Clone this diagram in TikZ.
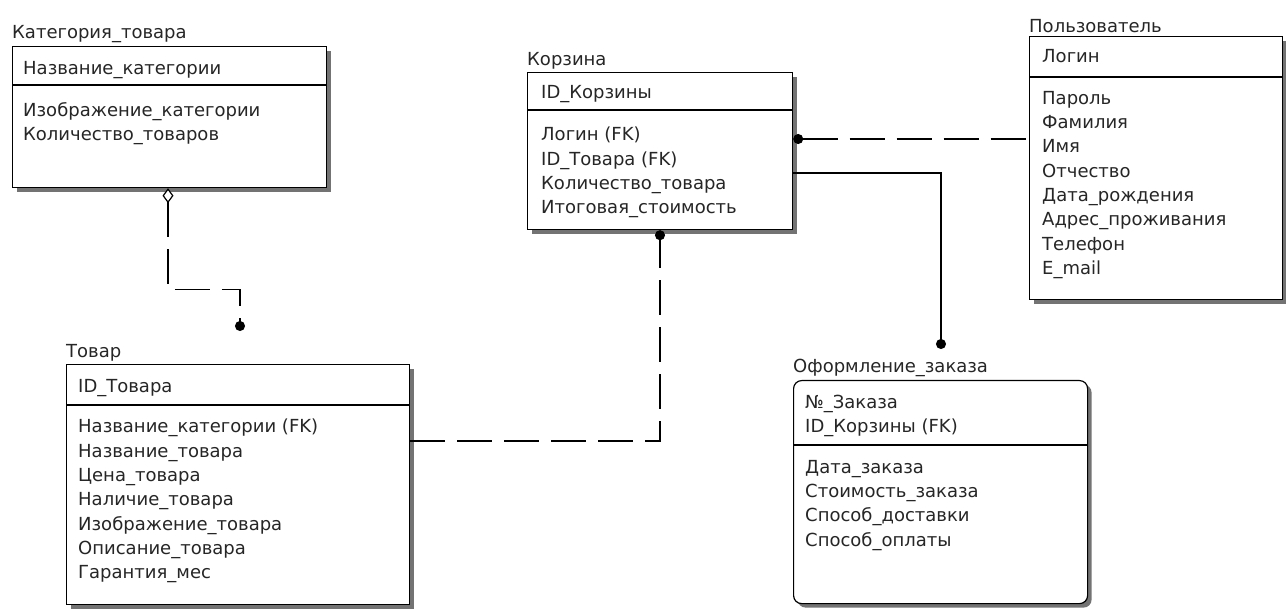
\documentclass[tikz,border=0pt]{standalone}
\usepackage{fontspec}
\setmainfont{DejaVu Sans}
\usetikzlibrary{positioning, shadows, arrows.meta}
\tikzstyle{entity} = [draw, line width=1.2pt, fill=white, anchor=north west, inner sep=0pt, drop shadow={shadow xshift=4pt, shadow yshift=-4pt, fill=black!55, opacity=1}]
\tikzstyle{field} = [anchor=base west, inner sep=0pt, align=left, text=black!85, font=\fontsize{18}{24.3}\selectfont]
\tikzstyle{fields} = [field, anchor=north west]
\tikzstyle{rel} = [line width=1.2pt, dash pattern=on 35pt off 12pt]

\begin{document}
\begin{tikzpicture}[x=1pt, y=-1pt]
  \useasboundingbox (0,0) rectangle (1286,612);

  % Категория_товара
  \node[entity, minimum width=314pt, minimum height=141pt] (cat) at (12,46) {};
  \draw[line width=1.2pt] (cat.west |- 0,85) -- (cat.east |- 0,85);
  \node[field, above right=3pt and 0pt of cat.north west, anchor=south west] (catT) {Категория\_товара};
  \node[field] (catK) at (23,75) {Название\_категории};
  \node[fields] (catA) at (23,102) {Изображение\_категории\\Количество\_товаров};

  % Товар
  \node[entity, minimum width=343pt, minimum height=240pt] (prod) at (66,364) {};
  \draw[line width=1.2pt] (prod.west |- 0,405) -- (prod.east |- 0,405);
  \node[field, above right=3pt and 0pt of prod.north west, anchor=south west] (prodT) {Товар};
  \node[field] (prodK) at (78,393) {ID\_Товара};
  \node[fields] (prodA) at (78,419) {Название\_категории (FK)\\Название\_товара\\Цена\_товара\\Наличие\_товара\\Изображение\_товара\\Описание\_товара\\Гарантия\_мес};

  % Корзина
  \node[entity, minimum width=265pt, minimum height=157pt] (cart) at (527,72) {};
  \draw[line width=1.2pt] (cart.west |- 0,110) -- (cart.east |- 0,110);
  \node[field, above right=3pt and 0pt of cart.north west, anchor=south west] (cartT) {Корзина};
  \node[field] (cartK) at (541,99) {ID\_Корзины};
  \node[fields] (cartA) at (541,127) {Логин (FK)\\ID\_Товара (FK)\\Количество\_товара\\Итоговая\_стоимость};

  % Пользователь
  \node[entity, minimum width=253pt, minimum height=263pt] (user) at (1029,36) {};
  \draw[line width=1.2pt] (user.west |- 0,77) -- (user.east |- 0,77);
  \node[field, above right=3pt and 0pt of user.north west, anchor=south west] (userT) {Пользователь};
  \node[field] (userK) at (1042,63) {Логин};
  \node[fields] (userA) at (1042,91) {Пароль\\Фамилия\\Имя\\Отчество\\Дата\_рождения\\Адрес\_проживания\\Телефон\\E\_mail};

  % Оформление_заказа
  \node[entity, rounded corners=8pt, minimum width=294pt, minimum height=223pt] (order) at (793,380) {};
  \draw[line width=1.2pt] (order.west |- 0,445) -- (order.east |- 0,445);
  \node[field, above right=3pt and 0pt of order.north west, anchor=south west] (orderT) {Оформление\_заказа};
  \node[fields] (orderK) at (805,395) {№\_Заказа\\ID\_Корзины (FK)};
  \node[fields] (orderA) at (805,460) {Дата\_заказа\\Стоимость\_заказа\\Способ\_доставки\\Способ\_оплаты};

  % Связи
  \coordinate (prodIn) at (240,331);
  \coordinate (orderIn) at (941,349);
  \draw[rel, {Diamond[fill=white, length=15pt, width=11pt]}-{Circle[length=10pt]}] (cat.south -| 168,0) -- ++(0,101) -| (prodIn);
  \draw[rel, {Circle[length=10pt]}-] (cart.east |- 0,139) -- (user.west |- 0,139);
  \draw[line width=1.2pt, -{Circle[length=10pt]}] (cart.east |- 0,173) -| (orderIn);
  \draw[rel, -{Circle[length=10pt]}] (prod.east |- 0,441) -| (cart.south -| 660,0);
\end{tikzpicture}
\end{document}
